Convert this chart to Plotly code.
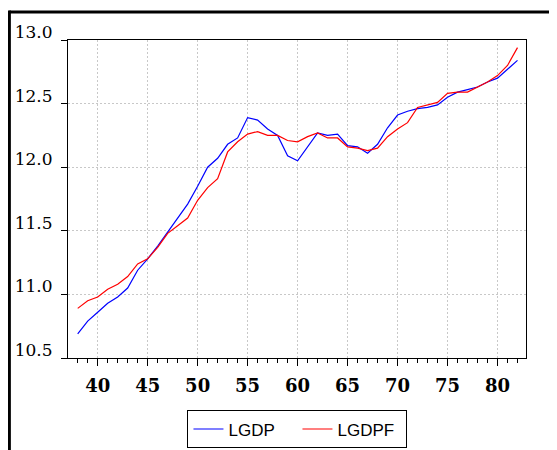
import plotly.graph_objects as go

# ── datos ─────────────────────────────────────────────────────────────────────
anios = list(range(38, 83))

lgdp = [10.69, 10.79, 10.86, 10.93, 10.98, 11.05, 11.19, 11.28, 11.38, 11.49,
        11.61, 11.71, 11.85, 12.00, 12.07, 12.18, 12.23, 12.39, 12.37, 12.30,
        12.25, 12.09, 12.05, 12.16, 12.27, 12.25, 12.26, 12.17, 12.16, 12.11,
        12.18, 12.31, 12.41, 12.44, 12.46, 12.47, 12.49, 12.55, 12.59, 12.61,
        12.63, 12.67, 12.70, 12.77, 12.84]

lgdpf = [10.89, 10.95, 10.98, 11.04, 11.08, 11.14, 11.24, 11.28, 11.37, 11.48,
         11.54, 11.60, 11.74, 11.84, 11.91, 12.12, 12.20, 12.26, 12.28, 12.25,
         12.25, 12.21, 12.20, 12.24, 12.27, 12.23, 12.23, 12.16, 12.15, 12.13,
         12.15, 12.24, 12.30, 12.35, 12.47, 12.49, 12.51, 12.58, 12.59, 12.59,
         12.63, 12.67, 12.72, 12.80, 12.94]

titulo = "الشكل رقم (4-2): تطور الناتج المحلي الإجمالي الحقيقي والناتج المقدر"

fig = go.Figure()
fig.add_trace(go.Scatter(x=anios, y=lgdp, mode="lines", name="LGDP",
                         line=dict(color="#0000ff", width=1.2)))
fig.add_trace(go.Scatter(x=anios, y=lgdpf, mode="lines", name="LGDPF",
                         line=dict(color="#ff0000", width=1.2)))

grid = dict(showgrid=True, gridcolor="#c8c8c8", griddash="2px,2px", gridwidth=1,
            automargin=False)

# la página tiene 8px de margen en el body: el lienzo se reduce en consecuencia
fig.update_layout(
    width=549, height=442,
    margin=dict(l=60, r=31, t=32, b=92, autoexpand=False),
    plot_bgcolor="white", paper_bgcolor="white",
    showlegend=True,
    legend=dict(orientation="h", x=0.501, y=-0.165, xanchor="center", yanchor="top",
                bordercolor="black", borderwidth=1,
                font=dict(family="Liberation Sans, Arial", size=17, color="black"),
                entrywidth=64, entrywidthmode="pixels",
                itemwidth=30, tracegroupgap=0),
    xaxis=dict(range=[37.03, 82.85], tick0=0, dtick=5, ticks="outside", ticklen=7,
               tickcolor="black", showline=True, linecolor="black", linewidth=1,
               mirror=True, zeroline=False, ticklabelstandoff=4,
               tickfont=dict(family="DejaVu Serif", size=18, color="black",
                             weight="bold"),
               minor=dict(dtick=1, ticks="outside", ticklen=4, tickcolor="black"),
               **grid),
    yaxis=dict(range=[10.5, 13.0], dtick=0.5, tickformat=".1f", ticks="outside",
               ticklen=6, tickcolor="black", showline=True, linecolor="black",
               linewidth=1, mirror=True, zeroline=False, ticklabelshift=-8,
               ticklabelstandoff=5,
               tickfont=dict(family="DejaVu Serif", size=17, color="black"),
               **grid),
    shapes=[
        # marco exterior de la página
        dict(type="line", xref="paper", yref="paper", x0=-0.128, x1=1.1,
             y0=1.088, y1=1.088, line=dict(color="black", width=3)),
        dict(type="line", xref="paper", yref="paper", x0=-0.128, x1=-0.128,
             y0=1.093, y1=-0.3, line=dict(color="black", width=3)),
    ],
    annotations=[
        dict(text=f"<b>{titulo}</b>", xref="paper", yref="paper", x=0.47, y=1.113,
             xanchor="center", yanchor="bottom", showarrow=False,
             font=dict(family="DejaVu Sans", size=20, color="black")),
    ],
)

fig.write_html("out.html")
